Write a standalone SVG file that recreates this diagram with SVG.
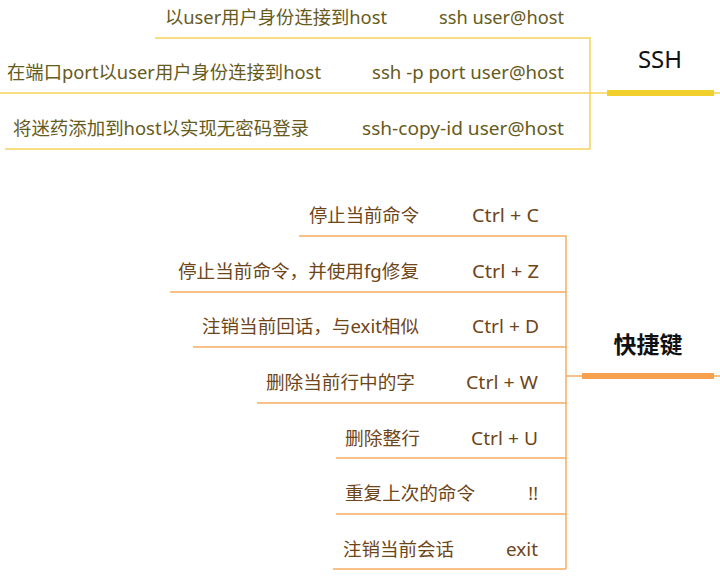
<svg xmlns="http://www.w3.org/2000/svg" width="720" height="581" viewBox="0 0 720 581">
<style>
text{font-family:"Noto Sans","Noto Sans CJK SC",sans-serif;font-size:18px}
.ssh{fill:#665a1c}
.kb{fill:#6e4519}
.r{text-anchor:end}
.ly{stroke:#f5d35a;stroke-width:1.5;fill:none}
.lo{stroke:#f7ac62;stroke-width:1.5;fill:none}
.title{fill:#111;text-anchor:middle}
.t1{font-size:24px}
.t2{font-size:23px;font-weight:bold}
</style>
<rect width="720" height="581" fill="#fff"/>
<g id="connectors">
<path class="ly" d="M155 38H590V149M0 93H720M5 149H590"/>
<path d="M607 93H714" stroke="#f2d02c" stroke-width="6"/>
<path class="lo" d="M299 236H566V569M170 292H566M193 347H566M257 403H566M336 458H566M336 514H566M333 569H566M566 376H720"/>
<path d="M582 376H714" stroke="#f7a24e" stroke-width="6"/>
</g>
<g id="ssh"><text class="title t1" x="660" y="68">SSH</text></g>
<g id="ssh1"><text class="ssh" x="165" y="24" textLength="222" lengthAdjust="spacingAndGlyphs">以user用户身份连接到host</text><text class="ssh r" x="564" y="24" textLength="125" lengthAdjust="spacingAndGlyphs">ssh user@host</text></g>
<g id="ssh2"><text class="ssh" x="7" y="79" textLength="314" lengthAdjust="spacingAndGlyphs">在端口port以user用户身份连接到host</text><text class="ssh r" x="564" y="79" textLength="192" lengthAdjust="spacingAndGlyphs">ssh -p port user@host</text></g>
<g id="ssh3"><text class="ssh" x="13" y="135" textLength="296" lengthAdjust="spacingAndGlyphs">将迷药添加到host以实现无密码登录</text><text class="ssh r" x="564" y="135" textLength="202" lengthAdjust="spacingAndGlyphs">ssh-copy-id user@host</text></g>
<g id="kbd"><text class="title t2" x="648" y="353">快捷键</text></g>
<g id="k1"><text class="kb" x="309" y="222" textLength="110" lengthAdjust="spacingAndGlyphs">停止当前命令</text><text class="kb r" x="539" y="222" textLength="67" lengthAdjust="spacingAndGlyphs">Ctrl + C</text></g>
<g id="k2"><text class="kb" x="178" y="278" textLength="241" lengthAdjust="spacingAndGlyphs">停止当前命令，并使用fg修复</text><text class="kb r" x="539" y="278" textLength="67" lengthAdjust="spacingAndGlyphs">Ctrl + Z</text></g>
<g id="k3"><text class="kb" x="202" y="333" textLength="217" lengthAdjust="spacingAndGlyphs">注销当前回话，与exit相似</text><text class="kb r" x="539" y="333" textLength="67" lengthAdjust="spacingAndGlyphs">Ctrl + D</text></g>
<g id="k4"><text class="kb" x="266" y="389" textLength="149" lengthAdjust="spacingAndGlyphs">删除当前行中的字</text><text class="kb r" x="538" y="389" textLength="72" lengthAdjust="spacingAndGlyphs">Ctrl + W</text></g>
<g id="k5"><text class="kb" x="345" y="445" textLength="75" lengthAdjust="spacingAndGlyphs">删除整行</text><text class="kb r" x="538" y="445" textLength="67" lengthAdjust="spacingAndGlyphs">Ctrl + U</text></g>
<g id="k6"><text class="kb" x="345" y="500" textLength="130" lengthAdjust="spacingAndGlyphs">重复上次的命令</text><text class="kb r" x="538" y="500">!!</text></g>
<g id="k7"><text class="kb" x="343" y="556" textLength="111" lengthAdjust="spacingAndGlyphs">注销当前会话</text><text class="kb r" x="538" y="556" textLength="32" lengthAdjust="spacingAndGlyphs">exit</text></g>
</svg>
